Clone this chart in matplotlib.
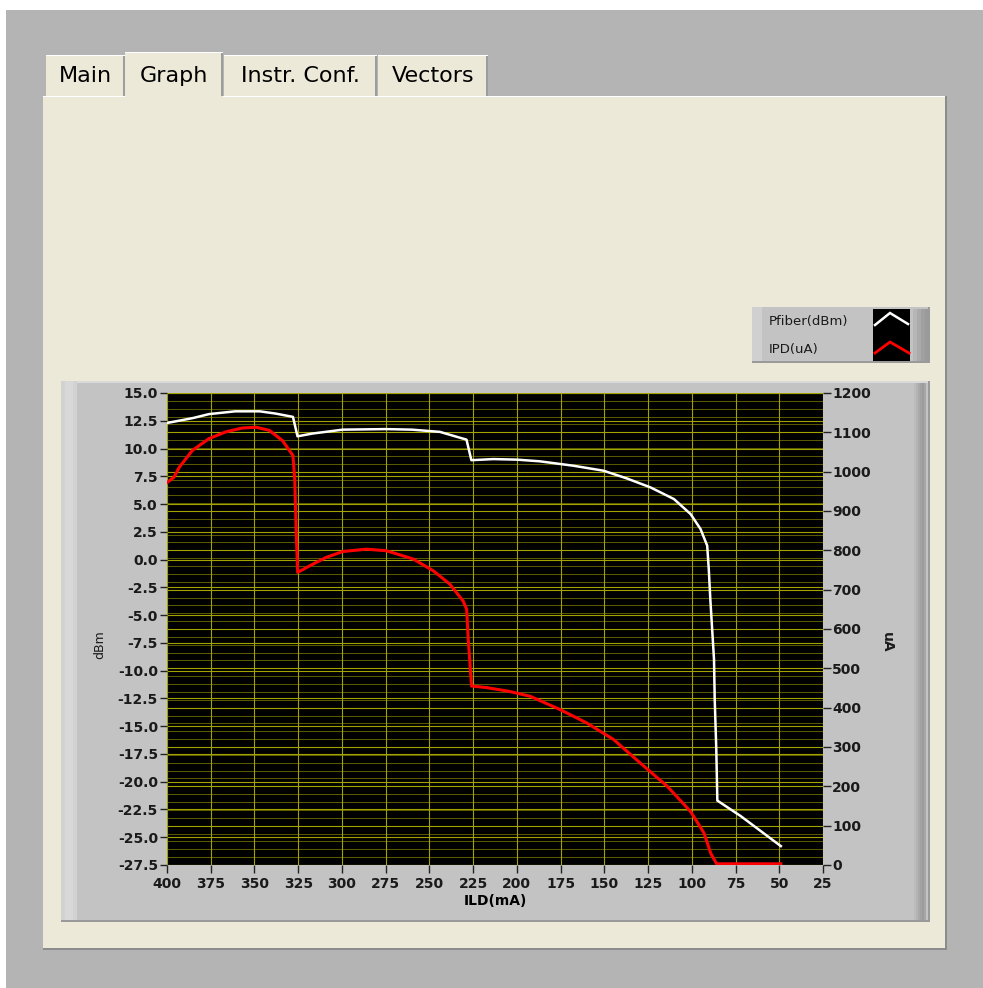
import matplotlib
matplotlib.use("Agg")
import matplotlib.pyplot as plt
from matplotlib.patches import Rectangle
import numpy as np

# Data
ild_pfiber = [400, 385, 376, 361, 347, 338, 328, 325.4, 316.8, 299.5, 275, 260, 244,
              228.8, 226, 213.5, 200, 186.9, 167.6, 150.4, 137, 123.6, 110.2, 100.7,
              95, 91.2, 90.3, 89.4, 87.3, 86.9, 86, 85.4, 72, 49.1]
pfiber_dbm = [12.3, 12.75, 13.1, 13.35, 13.35, 13.15, 12.85, 11.1, 11.35, 11.7, 11.75,
              11.7, 11.5, 10.8, 8.95, 9.05, 9.0, 8.85, 8.45, 8.0, 7.3, 6.5, 5.45, 4.1,
              2.75, 1.25, -0.85, -3.6, -9.0, -12.6, -17.1, -21.7, -23.1, -25.8]

ild_ipd = [400, 396, 393, 385.5, 376, 366.5, 357, 349, 341.5, 334, 328, 327, 326, 325.3,
           316.6, 309, 299.5, 286, 274.6, 259.3, 247.8, 238.3, 230.7, 228.7, 227.8,
           225.9, 217.3, 205, 192.4, 175.2, 160, 144.7, 129.4, 114, 100.7, 93, 89.2,
           85.8, 49.1]
ipd_ua = [972, 986, 1011, 1054, 1084, 1101, 1111, 1113, 1105, 1079, 1041, 982, 829, 744,
          765, 782, 797, 803, 799, 778, 748, 714, 671, 650, 574, 455, 451, 442, 429, 395,
          361, 319, 259, 200, 136, 81, 30, 3, 3]

tab_names = ["Main", "Graph", "Instr. Conf.", "Vectors"]
tab_edges = [(46, 125), (125, 223), (224, 377), (378, 488)]
legend_names = ["Pfiber(dBm)", "IPD(uA)"]

dbm_ticks = np.arange(-27.5, 15.01, 2.5)
ua_ticks = np.arange(0, 1201, 100)
ild_ticks = np.arange(400, 24, -25)

W, H = 983, 988
fig = plt.figure(figsize=(W / 100, H / 100), dpi=100)
fig.patch.set_facecolor("white")

# background in pixel coordinates
bg = fig.add_axes([0, 0, 1, 1])
bg.set_xlim(0, W)
bg.set_ylim(H, 0)
bg.axis("off")

def box(x0, y0, x1, y1, color, **kw):
    bg.add_patch(Rectangle((x0, y0), x1 - x0, y1 - y0, facecolor=color,
                           edgecolor="none", **kw))

beige = "#ece9d8"
box(6, 10, W, H, "#b4b4b4")
# tabs
for name, (x0, x1) in zip(tab_names, tab_edges):
    top = 52 if name == "Graph" else 55
    box(x0, top, x1, 97, beige)
    box(x0, top, x1, top + 1, "#ffffff")
    box(x1 - 2, top + 1, x1, 96, "#9d9d9d")
    bg.text((x0 + x1) / 2, 76, name, ha="center", va="center", fontsize=16,
            color="#000000")
# main panel
box(43, 96, 947, 950, "#8c8c8c")
box(43, 96, 945, 948, beige)
box(43, 96, 125, 97, "#ffffff")
box(223, 96, 945, 97, "#ffffff")

# graph container with 3D edges
box(61, 381, 930, 922, "#9a9a9a")
box(61, 381, 928, 920, "#c3c3c3")
box(61, 381, 928, 383, "#d9d9d9")
box(61, 381, 77, 920, "#d2d2d2")
box(65, 381, 73, 920, "#d8d8d8")
for k, c in enumerate(["#bcbcbc", "#b4b4b4", "#aaaaaa", "#a2a2a2", "#9c9c9c", "#a6a6a6"]):
    box(914 + 2 * k, 383, 916 + 2 * k, 920, c)

# legend box
box(752, 307, 930, 363, "#9a9a9a")
box(752, 307, 928, 361, "#c3c3c3")
box(752, 307, 762, 361, "#d0d0d0")
for k, c in enumerate(["#b6b6b6", "#aaaaaa", "#a0a0a0", "#9a9a9a"]):
    box(913 + 4 * k, 309, 917 + 4 * k, 361, c)
box(873, 309, 910, 361, "#000000")
bg.plot([875, 890, 908], [325, 313, 324], color="white", lw=1.8, solid_joinstyle="miter")
bg.plot([875, 890, 909], [353, 342, 353], color="#ff0000", lw=2.0, solid_joinstyle="miter")
bg.text(769, 321, legend_names[0], ha="left", va="center", fontsize=9.5, color="#1a1a1a")
bg.text(769, 349, legend_names[1], ha="left", va="center", fontsize=9.5, color="#1a1a1a")

# plot area
L, R, T, B = 167, 823, 393, 865
rect = [L / W, 1 - B / H, (R - L) / W, (B - T) / H]
ax2 = fig.add_axes(rect)          # right axis (uA), behind
ax = fig.add_axes(rect, sharex=ax2)  # left axis (dBm), on top
ax.set_zorder(ax2.get_zorder() + 1)
ax.patch.set_visible(False)
ax2.set_facecolor("black")
ax2.yaxis.tick_right()
ax2.yaxis.set_label_position("right")
ax2.xaxis.set_visible(False)

ax.set_xlim(400, 25)
ax.set_ylim(-27.5, 15)
ax2.set_ylim(0, 1200)

major_c = "#a3a300"
minor_c = "#585800"
ax2.set_yticks(ua_ticks)
ax2.set_yticks(np.arange(0, 1201, 20), minor=True)
ax2.grid(True, which="major", axis="y", color=major_c, lw=0.8)
ax2.grid(True, which="minor", axis="y", color=minor_c, lw=0.75)
ax2.tick_params(axis="y", which="minor", length=0)

ax.set_yticks(dbm_ticks)
ax.set_yticklabels([f"{v:.1f}" for v in dbm_ticks])
ax.set_xticks(ild_ticks)
ax.grid(True, which="major", color=major_c, lw=0.8, zorder=1)

ax.plot(ild_pfiber, pfiber_dbm, color="white", lw=1.8, zorder=3)
ax.plot(ild_ipd, ipd_ua, color="#ff0000", lw=2.2, zorder=4, transform=ax2.transData)

for a in (ax, ax2):
    for s in a.spines.values():
        s.set_visible(False)

ax.tick_params(axis="y", length=5, width=1, pad=1.5, labelsize=10, color="#222222")
ax.tick_params(axis="x", length=6, width=1, pad=3, labelsize=10, color="#222222")
ax2.tick_params(axis="y", which="major", length=6, width=1, pad=0.5, labelsize=10,
                color="#222222")
for lab in ax.get_yticklabels() + ax.get_xticklabels() + ax2.get_yticklabels():
    lab.set_fontweight("bold")
    lab.set_color("#1a1a1a")

ax.set_xlabel("ILD(mA)", fontsize=10, fontweight="bold", labelpad=2)
bg.text(100, 645, "dBm", rotation=90, ha="center", va="center", fontsize=9, color="#1a1a1a")
bg.text(887, 642, "uA", rotation=-90, ha="center", va="center", fontsize=10,
        fontweight="bold", color="#1a1a1a")

fig.savefig("out.png", dpi=100, facecolor=fig.get_facecolor())
